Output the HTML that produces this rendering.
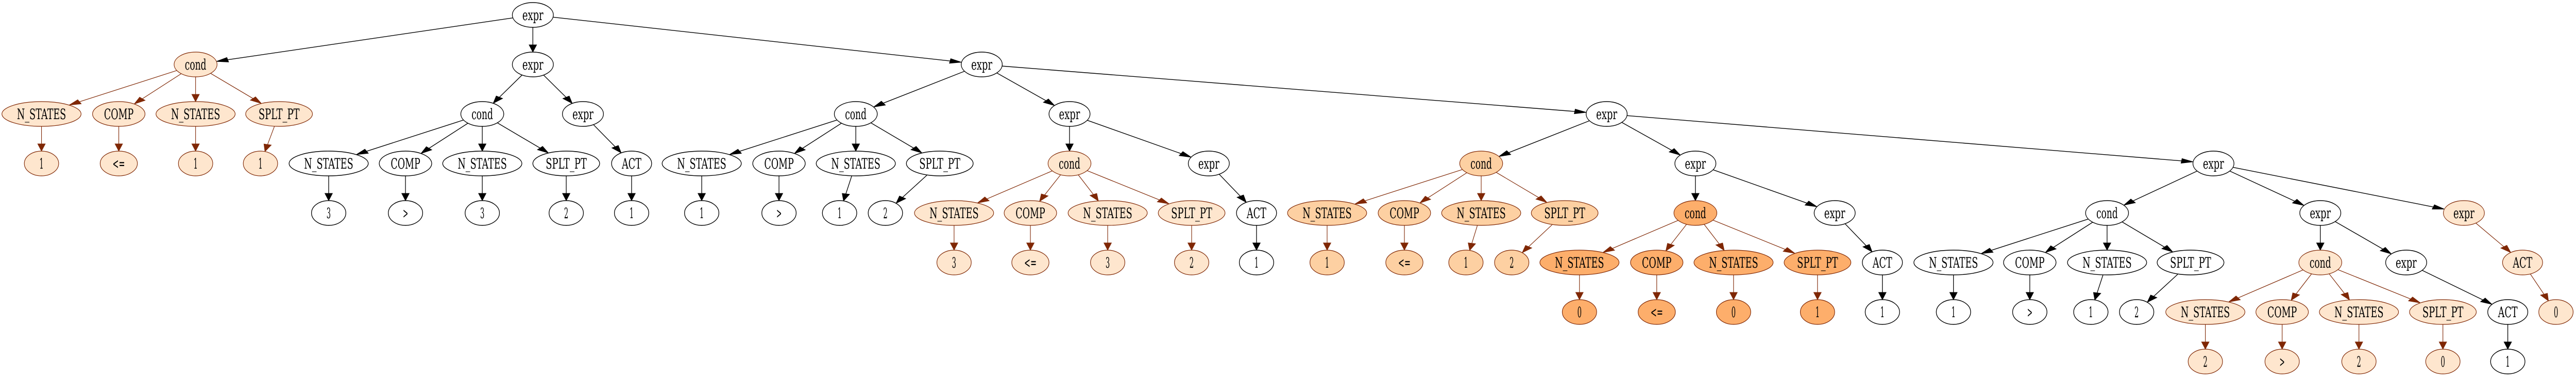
<!DOCTYPE html>
<html><head><meta charset="utf-8"><style>html,body{margin:0;padding:0;background:#fff;width:100%;height:100%;overflow:hidden}svg{display:block;position:absolute;left:0;top:0;width:100vw;height:100vh}</style></head>
<body>
<svg id="g" xmlns="http://www.w3.org/2000/svg" viewBox="0 0 5400 731" preserveAspectRatio="none"></svg>
<script>
var R=[29,125,221,317,413,509,605,701];
var RX={"expr":43,"cond":45,"N_STATES":83,"COMP":55,"SPLT_PT":70,"ACT":42,"<=":39,">":36};
var TW={"expr":44,"cond":45,"N_STATES":103,"COMP":62,"SPLT_PT":86,"ACT":41,"<=":26,">":11};
var ST={w:["#ffffff","#000000"],p:["#fee6ce","#7f2704"],m:["#fdd0a2","#7f2704"],d:["#fdae6b","#7f2704"]};
var nodes=[],edges=[];
function n(l,x,r,s,par){var o={l:l,x:x,y:R[r],s:s};nodes.push(o);if(par)edges.push([par,o]);return o;}
function cond4(x,r,s,par,c,leafs){
 var cn=n("cond",x,r,s,par);var L=["N_STATES","COMP","N_STATES","SPLT_PT"];
 for(var i=0;i<4;i++){var k=n(L[i],c[i],r+1,s,cn);n(leafs[i][0],leafs[i][1],r+2,s,k);} return cn;}
var A=n("expr",1117,0,"w");
cond4(410,1,"p",A,[87,249,410,585],[["1",87],["<=",249],["1",410],["1",546]]);
var C=n("expr",1117,1,"w",A);
cond4(1011,2,"w",C,[689,850,1011,1187],[["3",689],[">",850],["3",1011],["2",1187]]);
var E=n("expr",1222,2,"w",C);var a=n("ACT",1324,3,"w",E);n("1",1324,4,"w",a);
var F=n("expr",2058,1,"w",A);
cond4(1794,2,"w",F,[1471,1633,1794,1970],[["1",1471],[">",1633],["1",1760],["2",1856]]);
var H=n("expr",2242,2,"w",F);
cond4(2242,3,"p",H,[2000,2160,2322,2498],[["3",2000],["<=",2160],["3",2322],["2",2498]]);
var H2=n("expr",2534,3,"w",H);a=n("ACT",2634,4,"w",H2);n("1",2634,5,"w",a);
var I=n("expr",3368,2,"w",F);
cond4(3105,3,"m",I,[2782,2944,3105,3280],[["1",2782],["<=",2944],["1",3073],["2",3169]]);
var I2=n("expr",3554,3,"w",I);
cond4(3554,4,"d",I2,[3311,3473,3634,3810],[["0",3311],["<=",3473],["0",3634],["1",3810]]);
var I3=n("expr",3846,4,"w",I2);a=n("ACT",3946,5,"w",I3);n("1",3946,6,"w",a);
var J=n("expr",4640,3,"w",I);
cond4(4417,4,"w",J,[4095,4255,4417,4592],[["1",4095],[">",4255],["1",4383],["2",4479]]);
var J2=n("expr",4864,4,"w",J);
cond4(4864,5,"p",J2,[4623,4784,4945,5121],[["2",4623],[">",4784],["2",4945],["0",5121]]);
var J3=n("expr",5044,5,"w",J2);a=n("ACT",5257,6,"w",J3);n("1",5257,7,"w",a);
var J4=n("expr",5165,4,"p",J);a=n("ACT",5288,5,"p",J4);n("0",5358,6,"p",a);

function rx(o){return RX[o.l]||36;}
function tw(o){return TW[o.l]||9;}
var NS="http://www.w3.org/2000/svg",svg=document.getElementById("g");
function el(t,at,txt){var e=document.createElementNS(NS,t);for(var k in at)e.setAttribute(k,at[k]);if(txt!=null)e.textContent=txt;svg.appendChild(e);return e;}
var SX=1.75,RY=24;
function clip(o,dx,dy){var t=1/Math.sqrt((dx/rx(o))*(dx/rx(o))+(dy/RY)*(dy/RY));return [o.x+dx*t,o.y+dy*t];}
edges.forEach(function(e){
 var p=e[0],c=e[1],col=ST[p.s][1];
 var dx=c.x-p.x,dy=c.y-p.y;
 var s=clip(p,dx,dy),t=clip(c,-dx,-dy);
 var ux=(t[0]-s[0])/SX,uy=t[1]-s[1],L=Math.sqrt(ux*ux+uy*uy);ux/=L;uy/=L;
 var AL=14,AW=4.5;
 var bx=t[0]-ux*AL*SX,by=t[1]-uy*AL;
 el("line",{x1:s[0],y1:s[1],x2:bx,y2:by,stroke:col,"stroke-width":col=="#000000"?1.4:1.2});
 var p1=[bx+(-uy*AW)*SX,by+ux*AW],p2=[bx-(-uy*AW)*SX,by-ux*AW];
 el("polygon",{points:t[0]+","+t[1]+" "+p1[0]+","+p1[1]+" "+p2[0]+","+p2[1],fill:col,stroke:col,"stroke-width":1});
});
nodes.forEach(function(o){
 var c=ST[o.s];
 el("ellipse",{cx:o.x,cy:o.y,rx:rx(o),ry:RY,fill:c[0],stroke:c[1],"stroke-width":o.s=="w"?1.4:1.2});
 el("text",{x:o.x,y:o.y+10,"text-anchor":"middle","font-family":"DejaVu Serif, Liberation Serif, serif","font-size":28,textLength:tw(o),lengthAdjust:"spacingAndGlyphs",fill:"#000"},o.l);
});
</script>
</body></html>
